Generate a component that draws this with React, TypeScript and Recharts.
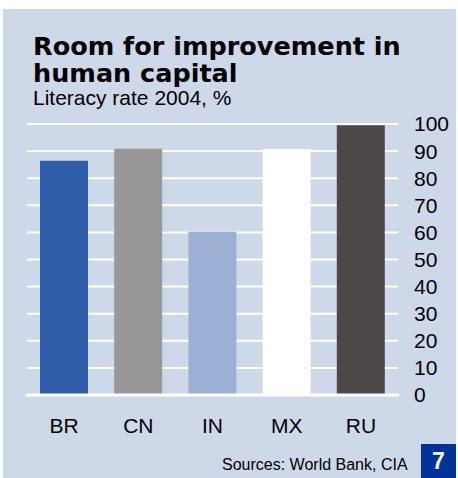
import { BarChart, Bar, Cell, XAxis, YAxis, CartesianGrid } from "recharts";

const countries = ["BR", "CN", "IN", "MX", "RU"];
const literacy = [86.4, 90.9, 60.2, 90.8, 99.5];
const yTicks = [0, 10, 20, 30, 40, 50, 60, 70, 80, 90, 100];

const barColors = ["#2f5ea9", "#999896", "#9cb0d6", "#ffffff", "#4c4847"];

const data = countries.map((c, i) => ({ country: c, rate: literacy[i] }));

const ARIAL = "'Liberation Sans', Arial, sans-serif";

export default function App() {
  return (
    <div
      style={{
        position: "absolute",
        left: 0,
        top: 0,
        width: 458,
        height: 478,
        background: "#fff",
        overflow: "hidden",
      }}
    >
      <div
        style={{
          position: "absolute",
          left: 3,
          top: 9,
          width: 453,
          height: 469,
          background: "#cdd8e9",
        }}
      />
      <div
        style={{
          position: "absolute",
          left: 33,
          top: 33,
          fontFamily: "'DejaVu Sans', sans-serif",
          fontWeight: 700,
          fontSize: 25.5,
          lineHeight: "27px",
          color: "#000",
          whiteSpace: "nowrap",
        }}
      >
        Room for improvement in
        <br />
        human capital
      </div>
      <div
        style={{
          position: "absolute",
          left: 33,
          top: 87.5,
          fontFamily: ARIAL,
          fontSize: 21,
          lineHeight: "20px",
          color: "#000",
          whiteSpace: "nowrap",
        }}
      >
        Literacy rate 2004, %
      </div>

      <div style={{ position: "absolute", left: 0, top: 0 }}>
        <BarChart
          width={458}
          height={478}
          data={data}
          margin={{ top: 124, right: 0, bottom: 0, left: 27 }}
          barCategoryGap={13}
        >
          <CartesianGrid
            vertical={false}
            stroke="#ffffff"
            strokeWidth={2}
          />
          <XAxis
            dataKey="country"
            height={83}
            tickLine={false}
            axisLine={{ stroke: "#ffffff", strokeWidth: 3, strokeLinecap: "round" }}
            tickMargin={17}
            tick={{ fill: "#000", fontSize: 21, fontFamily: ARIAL }}
          />
          <YAxis
            orientation="right"
            width={60}
            domain={[0, 100]}
            ticks={yTicks}
            interval={0}
            tickLine={false}
            axisLine={false}
            tickMargin={10}
            tick={{ fill: "#000", fontSize: 21, fontFamily: ARIAL, textAnchor: "start" }}
          />
          <Bar dataKey="rate" isAnimationActive={false}>
            {data.map((d, i) => (
              <Cell key={d.country} fill={barColors[i]} />
            ))}
          </Bar>
        </BarChart>
      </div>

      <div
        style={{
          position: "absolute",
          left: 222,
          top: 455,
          fontFamily: ARIAL,
          fontSize: 16,
          lineHeight: "20px",
          color: "#000",
          whiteSpace: "nowrap",
        }}
      >
        Sources: World Bank, CIA
      </div>
      <div
        style={{
          position: "absolute",
          left: 421,
          top: 444,
          width: 35,
          height: 34,
          background: "#003399",
          color: "#fff",
          fontFamily: ARIAL,
          fontWeight: 700,
          fontSize: 23,
          lineHeight: "34px",
          textAlign: "center",
        }}
      >
        7
      </div>
    </div>
  );
}
